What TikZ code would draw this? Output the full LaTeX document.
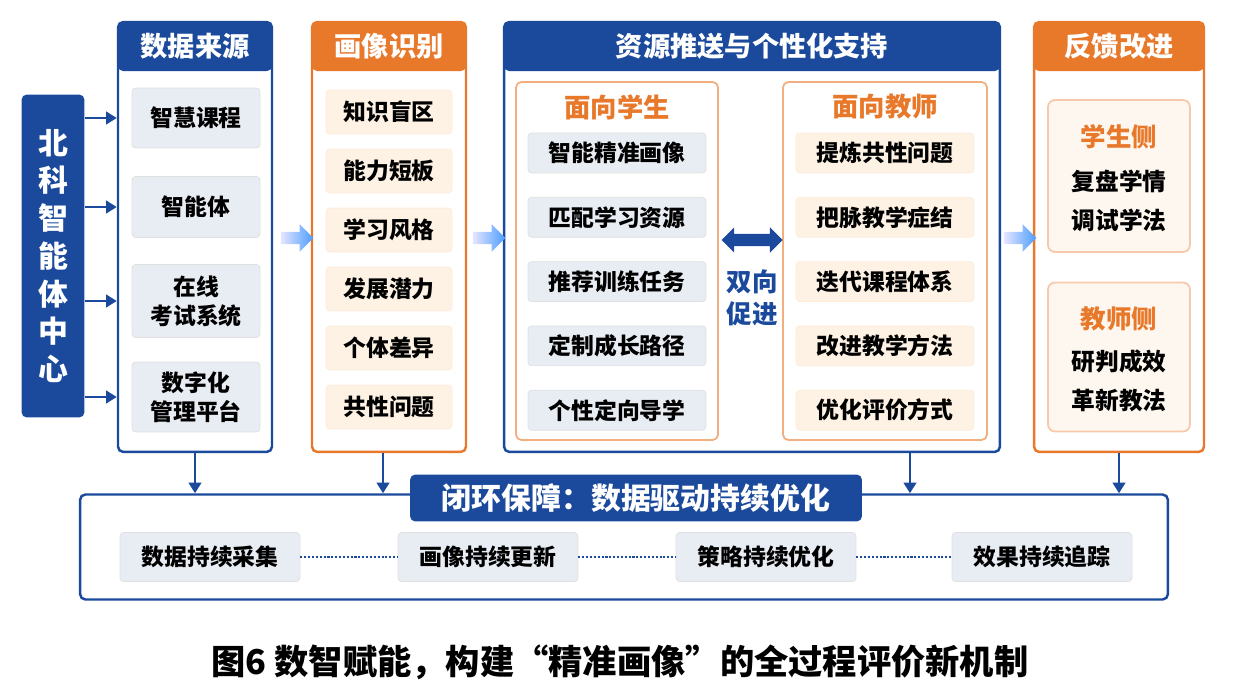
\documentclass[tikz,border=0pt]{standalone}
\usepackage{fontspec}
\setmainfont{Noto Sans CJK SC}
\usetikzlibrary{arrows.meta,shapes.arrows}
\definecolor{mainblue}{HTML}{1B4A9C}
\definecolor{mainorange}{HTML}{E8782A}
\definecolor{itemgray}{HTML}{E8ECF3}
\definecolor{itemcream}{HTML}{FDF2E4}
\tikzset{
  col/.style={draw=#1, line width=1.4pt, rounded corners=3pt, minimum width=3.08cm, minimum height=8.6cm},
  head/.style={fill=#1, text=white, rounded corners=3pt, minimum height=1cm, font=\fontsize{15.5}{17}\selectfont\bfseries},
  gitem/.style={draw=gray!25, fill=itemgray, rounded corners=2pt, align=center, font=\fontsize{13}{16.5}\selectfont\bfseries},
  citem/.style={draw=orange!15, fill=itemcream, rounded corners=2pt, align=center, font=\fontsize{13}{16.5}\selectfont\bfseries},
  fat/.style={single arrow, single arrow head extend=0.15cm, minimum height=0.65cm, minimum width=0.5cm, left color=blue!10, right color=blue!55!cyan!70, draw=none},
  link/.style={-{Triangle[length=6pt,width=7pt]}, mainblue, line width=1.6pt}
}
\begin{document}
\begin{tikzpicture}[x=0.02cm,y=-0.02cm]
\path[use as bounding box] (0,0) rectangle (1237,699);
% left bar
\node[fill=mainblue, text=white, rounded corners=3pt, minimum width=1.26cm, minimum height=6.46cm, align=center, font=\fontsize{17}{21.5}\selectfont\bfseries] (lb) at (53,256) {北\\科\\智\\能\\体\\中\\心};
% column 1
\node[col=mainblue] (c1) at (195,237) {};
\node[head=mainblue, minimum width=3.08cm, anchor=north] (h1) at (c1.north) {数据来源};
\node[gitem, minimum width=2.56cm, minimum height=1.2cm] (i11) at (196,118) {智慧课程};
\node[gitem, minimum width=2.56cm, minimum height=1.22cm] (i12) at (196,207) {智能体};
\node[gitem, minimum width=2.56cm, minimum height=1.46cm] (i13) at (196,301) {在线\\考试系统};
\node[gitem, minimum width=2.56cm, minimum height=1.4cm] (i14) at (196,397) {数字化\\管理平台};
\foreach \i in {i11,i12,i13,i14}
  \draw[link] (lb.east |- \i.west) -- (c1.west |- \i.west);
% column 2
\node[col=mainorange] (c2) at (389,237) {};
\node[head=mainorange, minimum width=3.08cm, anchor=north] (h2) at (c2.north) {画像识别};
\foreach \t [count=\k] in {知识盲区,能力短板,学习风格,发展潜力,个体差异,共性问题}
  \node[citem, minimum width=2.52cm, minimum height=0.88cm] (i2\k) at (389,{112+59*(\k-1)}) {\t};
% column 3
\node[col=mainblue, minimum width=9.92cm] (c3) at (752,237) {};
\node[head=mainblue, minimum width=9.92cm, anchor=north] (h3) at (c3.north) {资源推送与个性化支持};
\node[draw=mainorange!60, line width=1pt, rounded corners=3pt, minimum width=4.04cm, minimum height=7.16cm] (st) at (617,261) {};
\node[draw=mainorange!60, line width=1pt, rounded corners=3pt, minimum width=4.08cm, minimum height=7.16cm] (te) at (885,261) {};
\node[text=mainorange, font=\fontsize{15}{17}\selectfont\bfseries] (st0) at (617,107) {面向学生};
\node[text=mainorange, font=\fontsize{15}{17}\selectfont\bfseries] (te0) at (885,107) {面向教师};
\foreach \t [count=\k] in {智能精准画像,匹配学习资源,推荐训练任务,定制成长路径,个性定向导学}
  \node[gitem, minimum width=3.56cm, minimum height=0.8cm] (s\k) at (617,{153+64.3*(\k-1)}) {\t};
\foreach \t [count=\k] in {提炼共性问题,把脉教学症结,迭代课程体系,改进教学方法,优化评价方式}
  \node[citem, minimum width=3.56cm, minimum height=0.8cm] (t\k) at (885,{153+64.3*(\k-1)}) {\t};
\node[double arrow, double arrow head extend=0.13cm, fill=mainblue, minimum height=1.22cm, minimum width=0.42cm] (da) at (752,240) {};
\node[text=mainblue, align=center, font=\fontsize{14.5}{18}\selectfont\bfseries] (dt) at (752,298) {双向\\促进};
% column 4
\node[col=mainorange, minimum width=3.4cm] (c4) at (1119,237) {};
\node[head=mainorange, minimum width=3.4cm, anchor=north] (h4) at (c4.north) {反馈改进};
\node[draw=mainorange!40, fill=itemcream!60, line width=1pt, rounded corners=4pt, minimum width=2.84cm, minimum height=3.04cm] (f1) at (1119,176) {};
\node[draw=mainorange!40, fill=itemcream!60, line width=1pt, rounded corners=4pt, minimum width=2.84cm, minimum height=2.98cm] (f2) at (1119,357) {};
\node[text=mainorange, font=\fontsize{14.5}{17}\selectfont\bfseries] (f11) at (1119,137) {学生侧};
\node[align=center, font=\fontsize{13.5}{22}\selectfont\bfseries] (f12) at (1119,201) {复盘学情\\调试学法};
\node[text=mainorange, font=\fontsize{14.5}{17}\selectfont\bfseries] (f21) at (1119,319) {教师侧};
\node[align=center, font=\fontsize{13.5}{22}\selectfont\bfseries] (f22) at (1119,381) {研判成效\\革新教法};
% fat arrows
\node[fat] (a1) at (294,238) {};
\node[fat] (a2) at (486,238) {};
\node[fat] (a3) at (1017,238) {};
% bottom
\node[draw=mainblue, line width=1.4pt, rounded corners=3pt, minimum width=21.76cm, minimum height=2.1cm] (bot) at (624,547) {};
\node[fill=mainblue, text=white, rounded corners=3pt, minimum width=9.04cm, minimum height=0.94cm, font=\fontsize{17}{19}\selectfont\bfseries] (bh) at (636,498) {闭环保障：数据驱动持续优化};
\foreach \t/\x [count=\k] in {数据持续采集/210,画像持续更新/488,策略持续优化/766,效果持续追踪/1042}
  \node[gitem, minimum width=3.6cm, minimum height=0.98cm] (b\k) at (\x,557) {\t};
\foreach \a/\b in {b1/b2,b2/b3,b3/b4}
  \draw[mainblue, densely dotted, line width=1.2pt] (\a) -- (\b);
\draw[link] (c1.south) -- (c1.south |- bot.north);
\draw[link] ([xshift=-0.12cm]c2.south) -- ([xshift=-0.12cm]c2.south |- bot.north);
\draw[link] ([xshift=3.16cm]c3.south) -- ([xshift=3.16cm]c3.south |- bot.north);
\draw[link] (c4.south) -- (c4.south |- bot.north);
% caption
\node[font=\fontsize{19.5}{22}\selectfont\bfseries] (cap) at (620,662) {图6 数智赋能，构建“精准画像”的全过程评价新机制};
\end{tikzpicture}
\end{document}
